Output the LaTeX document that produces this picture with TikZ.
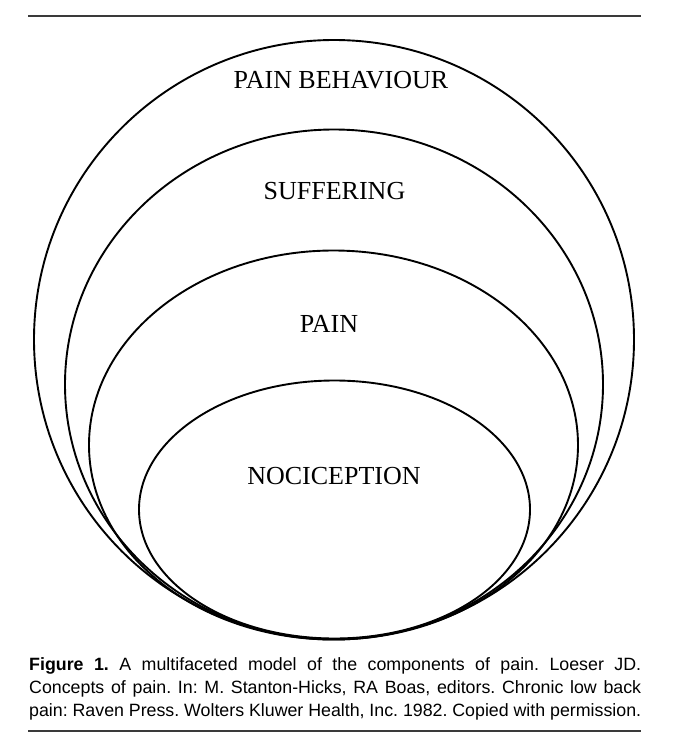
\documentclass[tikz,border=0pt]{standalone}
\usepackage{fontspec}
\setmainfont{Liberation Serif}
\newfontfamily\capfont{Liberation Sans}
\usetikzlibrary{positioning}
\definecolor{ruleGray}{HTML}{3A3A3A}

\begin{document}
\begin{tikzpicture}[x=1pt, y=-1pt,
    ring/.style={line width=1.9pt, black},
    layer/.style={inner sep=0pt, font=\fontsize{26}{29}\selectfont},
    hrule/.style={line width=2pt, ruleGray}]
  \useasboundingbox (0,0) rectangle (673,734);
  % rules above and below the figure
  \coordinate (topL) at (28,16);
  \coordinate (topR) at (641,16);
  \coordinate (botL) at (28,731);
  \coordinate (botR) at (641,731);
  \draw[hrule] (topL) -- (topR);
  \draw[hrule] (botL) -- (botR);
  % nested ellipses, all touching near the bottom
  \foreach \cx/\cy/\rx/\ry in {334/339.5/300/299.5, 334/384.5/269/255,
                               333.5/445/244.5/194.5, 334.5/509.5/195.5/129} {
    \draw[ring] (\cx,\cy) ellipse [x radius=\rx, y radius=\ry];
  }
  \node[layer] (behav) at (341,80)  {PAIN BEHAVIOUR};
  \node[layer] (suff)  at (334.5,191) {SUFFERING};
  \node[layer] (pain)  at (329,324) {PAIN};
  \node[layer] (noci)  at (334,476) {NOCICEPTION};
  % caption
  \node[anchor=north west, inner sep=0pt, text width=612pt, align=justify,
        font=\capfont\fontsize{17.8}{23}\selectfont] (caption) at (29,657)
    {\frenchspacing\hyphenpenalty=10000\parfillskip=0pt \textbf{Figure 1.} A multifaceted model of the components of pain. Loeser JD.\linebreak
     Concepts of pain. In: M. Stanton-Hicks, RA Boas, editors. Chronic low back\linebreak
     pain: Raven Press. Wolters Kluwer Health, Inc. 1982. Copied with permission.};
\end{tikzpicture}
\end{document}
